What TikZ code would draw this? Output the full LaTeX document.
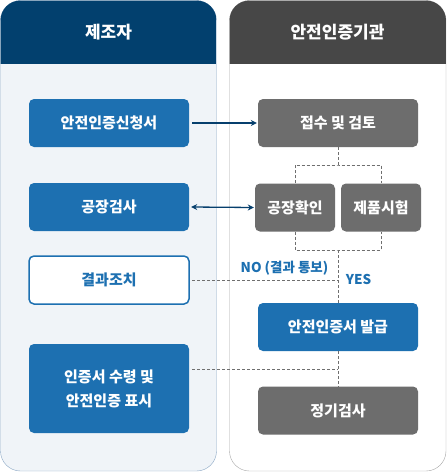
\documentclass[tikz,border=0pt]{standalone}
\usepackage{fontspec}
\setmainfont{Noto Sans CJK KR}
\usetikzlibrary{positioning, arrows.meta}

\definecolor{certblue}{HTML}{1D70B1}
\definecolor{headblue}{HTML}{02406E}
\definecolor{headgrey}{HTML}{474747}
\definecolor{boxgrey}{HTML}{6D6D6D}
\definecolor{leftbg}{HTML}{F0F4F8}
\definecolor{leftedge}{HTML}{8BA7C4}
\definecolor{rightedge}{HTML}{A8A8A8}
\definecolor{dashgrey}{HTML}{6F6F6F}
\definecolor{arrowblue}{HTML}{063F6D}

\begin{document}
\begin{tikzpicture}[x=1pt, y=-1pt, >={Stealth[length=6pt, width=6pt]},
          bluebox/.style={fill=certblue, rounded corners=5pt, minimum width=160pt, minimum height=48pt,
                          text=white, align=center, font=\bfseries\fontsize{15}{24}\selectfont},
          greybox/.style={bluebox, fill=boxgrey},
          linebox/.style={bluebox, fill=white, draw=certblue, line width=1.5pt, text=certblue},
          halfbox/.style={greybox, minimum width=80pt},
          headtext/.style={text=white, font=\bfseries\fontsize{17}{20}\selectfont},
          link/.style={draw=dashgrey, dash pattern=on 3pt off 2pt, line width=0.8pt},
          notetext/.style={text=certblue, font=\bfseries\fontsize{13.5}{16}\selectfont}
        ]
        \useasboundingbox (0,0) rectangle (447,472);

        % panels
        \draw[fill=leftbg, draw=leftedge, rounded corners=20pt] (0.5,0.5) rectangle (216.5,471);
        \begin{scope}
          \clip[rounded corners=20pt] (0.5,0.5) rectangle (216.5,471);
          \fill[headblue] (0,0) rectangle (217,64);
        \end{scope}
        \draw[fill=white, draw=rightedge, rounded corners=20pt] (229.5,0.5) rectangle (446,471);
        \begin{scope}
          \clip[rounded corners=20pt] (229.5,0.5) rectangle (446,471);
          \fill[headgrey] (229,0) rectangle (447,64);
        \end{scope}
        \node[headtext] (maker) at (108.5,32) {제조자};
        \node[headtext] (agency) at (337.5,32) {안전인증기관};

        % left column
        \node[bluebox] (apply) at (109,123) {안전인증신청서};
        \node[bluebox] (inspect) at (109,207) {공장검사};
        \node[linebox] (action) at (109,280) {결과조치};
        \node[bluebox, minimum height=89pt] (receive) at (109,388.5) {인증서 수령 및\\안전인증 표시};

        % right column
        \node[greybox] (review) at (338,123) {접수 및 검토};
        \node[halfbox] (factory) at (295,207.5) {공장확인};
        \node[halfbox] (product) at (381,207.5) {제품시험};
        \node[bluebox] (issue) at (338,327) {안전인증서 발급};
        \node[greybox] (periodic) at (338,410.5) {정기검사};

        \coordinate (joinTop) at (338,165);
        \coordinate (joinBot) at (338,250);
        \coordinate (actLink) at (192,280);
        \coordinate (recvLink) at (192,369);

        \draw[link] (review.south) -- (joinTop);
        \draw[link] (factory.north) |- (joinTop) -| (product.north);
        \draw[link] (factory.south) |- (joinBot) -| (product.south);
        \draw[link] (joinBot) -- (issue.north);
        \draw[link] (actLink) -- (actLink -| joinBot);
        \draw[link] (recvLink) -- (recvLink -| joinBot);
        \draw[link] (issue.south) -- (periodic.north);

        \draw[->, arrowblue, line width=1.3pt] ([xshift=3pt]apply.east) -- ([xshift=-1pt]review.west);
        \draw[<->, arrowblue, line width=1.3pt] ([xshift=2pt]inspect.east) -- ([xshift=-1pt]factory.west);

        \node[notetext] (nolabel) at (284.5,268) {NO (결과 통보)};
        \node[notetext] (yeslabel) at (358.5,279) {YES};
      \end{tikzpicture}
\end{document}
